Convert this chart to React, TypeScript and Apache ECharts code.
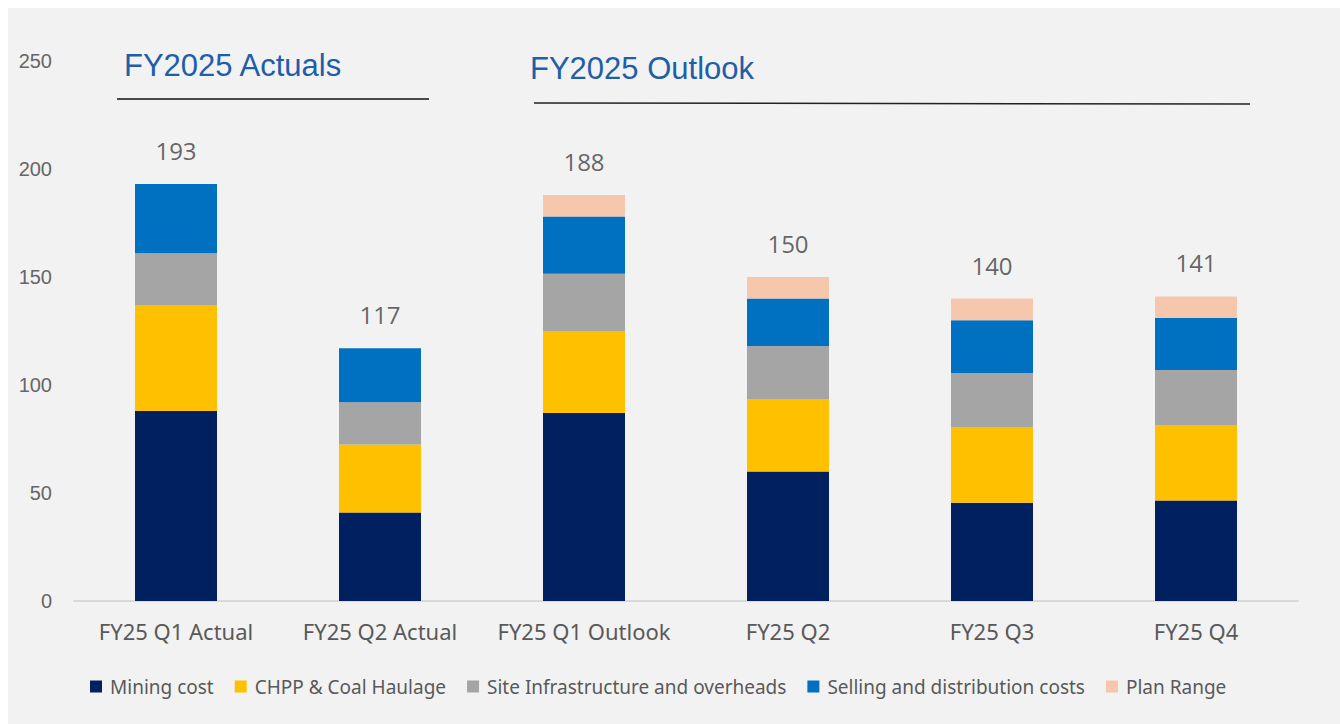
import React, { useEffect, useRef } from "react";
import * as echarts from "echarts";

const categories = ["FY25 Q1 Actual", "FY25 Q2 Actual", "FY25 Q1 Outlook", "FY25 Q2", "FY25 Q3", "FY25 Q4"];
const miningCost = [88, 41, 87, 60, 45.5, 46.5];
const chppHaulage = [49, 31.5, 38, 33.5, 35, 35];
const siteInfra = [24, 19.5, 26.5, 24.5, 25, 25.5];
const sellingDist = [32, 25, 26.5, 22, 24.5, 24];
const planRange: (number | string)[] = ["-", "-", 10, 10, 10, 10];
const totals = [193, 117, 188, 150, 140, 141];
const yTicks = [0, 50, 100, 150, 200, 250];

const seriesNames = [
  "Mining cost",
  "CHPP & Coal Haulage",
  "Site Infrastructure and overheads",
  "Selling and distribution costs",
  "Plan Range",
];
const seriesColors = ["#002060", "#FFC000", "#A5A5A5", "#0070C0", "#F6C6AD"];

export default function App() {
  const ref = useRef<HTMLDivElement>(null);
  useEffect(() => {
    if (!ref.current) return;
    const chart = echarts.init(ref.current, null, { renderer: "svg" });
    const dataSets = [miningCost, chppHaulage, siteInfra, sellingDist, planRange];
    const bars = dataSets.map((d, i) => ({
      name: seriesNames[i],
      type: "bar",
      stack: "total",
      barWidth: 82,
      data: d,
      itemStyle: { color: seriesColors[i] },
      emphasis: { disabled: true },
    }));
    const font = "'Noto Sans', sans-serif";
    chart.setOption({
      animation: false,
      backgroundColor: "transparent",
      grid: { left: 74, right: 42, top: 61, bottom: 123, containLabel: false },
      xAxis: {
        type: "category",
        data: categories,
        axisLine: { lineStyle: { color: "#d9d9d9", width: 2 } },
        axisTick: { show: false },
        axisLabel: { color: "#595959", fontSize: 22, margin: 19, interval: 0, fontFamily: font },
      },
      yAxis: {
        type: "value",
        min: yTicks[0],
        max: yTicks[yTicks.length - 1],
        interval: 50,
        splitLine: { show: false },
        axisLine: { show: false },
        axisTick: { show: false },
        axisLabel: { color: "#666666", fontSize: 20, margin: 22, fontFamily: "'Liberation Sans', Arial, sans-serif" },
      },
      legend: {
        data: seriesNames,
        left: 85,
        top: 672,
        icon: "rect",
        itemWidth: 12,
        itemHeight: 12,
        itemGap: 21,
        textStyle: { color: "#595959", fontSize: 19, fontFamily: font, padding: [0, 0, 0, 3] },
        selectedMode: false,
      },
      series: [
        ...bars,
        {
          name: "Total",
          type: "scatter",
          data: totals,
          symbolSize: 1,
          itemStyle: { color: "rgba(0,0,0,0)" },
          label: {
            show: true,
            position: "top",
            distance: 21,
            color: "#404040",
            fontSize: 24,
            fontFamily: "'Open Sans', sans-serif",
          },
          silent: true,
        },
      ],
      graphic: [
        { type: "rect", z: -10, shape: { x: 8, y: 8, width: 1332, height: 716 }, style: { fill: "#f2f2f2" }, silent: true },
        {
          type: "text",
          x: 124,
          y: 65,
          style: { text: "FY2025 Actuals", fontSize: 31, fill: "#1F5EA8", fontFamily: "'Liberation Sans', Arial, sans-serif", verticalAlign: "middle" },
        },
        {
          type: "text",
          x: 530,
          y: 68,
          style: { text: "FY2025 Outlook", fontSize: 31, fill: "#1F5EA8", fontFamily: "'Liberation Sans', Arial, sans-serif", verticalAlign: "middle" },
        },
        { type: "line", shape: { x1: 117, y1: 99, x2: 429, y2: 99 }, style: { stroke: "#111", lineWidth: 1.5 } },
        { type: "line", shape: { x1: 534, y1: 103, x2: 1250, y2: 104 }, style: { stroke: "#222", lineWidth: 1.5 } },
      ],
    });
    return () => chart.dispose();
  }, []);
  return <div ref={ref} style={{ position: "absolute", left: 0, top: 0, width: 1340, height: 724 }} />;
}
